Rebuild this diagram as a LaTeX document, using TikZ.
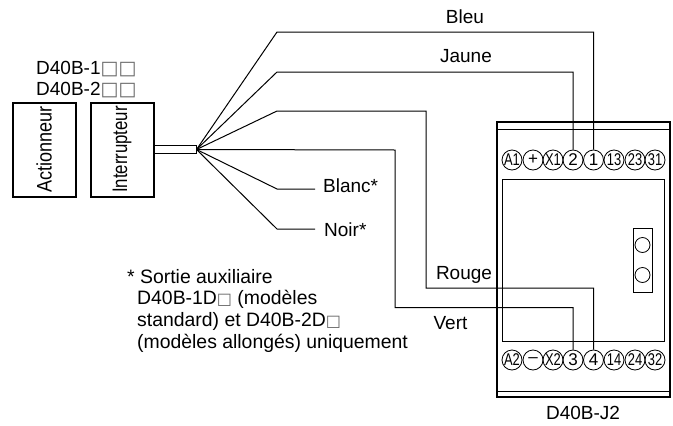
\documentclass[tikz,border=0pt]{standalone}
\usepackage{fontspec}
\setmainfont{Liberation Sans}
\newfontfamily\sqfont{DejaVu Sans}
\usetikzlibrary{positioning}
\newcommand{\sq}{{\sqfont\color{black!60}□}}
\newcommand{\sqn}{{\fontsize{16}{16}\selectfont\sq}}
\tikzset{
  txt/.style={font=\fontsize{19}{21}\selectfont, inner sep=0pt},
  note/.style={font=\fontsize{19.4}{21}\selectfont, inner sep=0pt, anchor=west},
  unit/.style={draw, line width=2pt, minimum width=63pt, minimum height=94pt, inner sep=0pt, outer sep=0pt},
  wire/.style={line width=1pt},
  term/.style={draw, circle, line width=0.8pt, minimum size=20pt, inner sep=0pt, font=\fontsize{17}{17}\selectfont},
  led/.style={draw, circle, line width=0.8pt, minimum size=15pt, inner sep=0pt},
}
\newcommand{\nar}[1]{\scalebox{0.76}[1]{#1}}
\begin{document}
\begin{tikzpicture}[x=1pt, y=-1pt]
    \useasboundingbox (0,0) rectangle (673,426);

    %define the boxes on the left
    \node[unit] (act) at (44,149.5) {\rotatebox{90}{\fontsize{21}{21}\selectfont\scalebox{0.86}[1]{Actionneur}}};
    \node[unit, right=15pt of act] (inter) {\rotatebox{90}{\fontsize{21}{21}\selectfont\scalebox{0.8}[1]{Interrupteur}}};
    \node[txt, anchor=west] (ref1) at (36,69) {D40B-1\sq\sq};
    \node[txt, anchor=west] (ref2) at (36,90) {D40B-2\sq\sq};
    \node[draw, line width=0.7pt, minimum width=43pt, minimum height=8pt, inner sep=0pt, outer sep=0pt, right=0pt of inter] (cable) {};
    \coordinate (fan) at (cable.east);

    %define the module
    \draw[line width=2pt] (497,122) rectangle (670,397);
    \draw[line width=0.8pt] (497,129) -- (670,129);
    \draw[line width=0.8pt] (497,391) -- (670,391);
    \draw[line width=0.9pt] (502,179) rectangle (664,341);
    \draw[line width=0.9pt] (633,228) rectangle (652,292);
    \node[led] (led1) at (642.5,245) {};
    \node[led] (led2) at (642.5,275) {};
    \node[txt] (module) at (583,413) {D40B-J2};

    %define the terminals
    \node[term] (tA1) at (512,160) {\nar{A1}};
    \node[term] (tP)  at (533,160) {+};
    \node[term] (tX1) at (553,160) {\nar{X1}};
    \node[term] (t2)  at (573,160) {2};
    \node[term] (t1)  at (593.5,160) {1};
    \node[term] (t13) at (614,160) {\nar{13}};
    \node[term] (t23) at (635,160) {\nar{23}};
    \node[term] (t31) at (655,160) {\nar{31}};
    \node[term] (tA2) at (512,360) {\nar{A2}};
    \node[term] (tM)  at (533,360) {--};
    \node[term] (tX2) at (553,360) {\nar{X2}};
    \node[term] (t3)  at (573,360) {3};
    \node[term] (t4)  at (593.5,360) {4};
    \node[term] (t14) at (614,360) {\nar{14}};
    \node[term] (t24) at (635,360) {\nar{24}};
    \node[term] (t32) at (655,360) {\nar{32}};

    % define the labels
    \node[txt] (bleu) at (465,17) {Bleu};
    \node[txt] (jaune) at (466,56) {Jaune};
    \node[txt, anchor=west] (blanc) at (323,186) {Blanc*};
    \node[txt, anchor=west] (noir) at (324,230) {Noir*};
    \node[txt] (rouge) at (464,275) {Rouge};
    \node[txt] (vert) at (450.5,323) {Vert};
    \node[note] (note0) at (127,277) {* Sortie auxiliaire};
    \node[note] (note1) at (137,299) {D40B-1D\sqn{} (modèles};
    \node[note] (note2) at (137,321) {standard) et D40B-2D\sqn};
    \node[note] (note3) at (137,343) {(modèles allongés) uniquement};

    % define the links
    \draw[wire] (fan) -- (277,32) -| (t1.north);
    \draw[wire] (fan) -- (277,72) -| (t2.north);
    \draw[wire] (fan) -- (277,111) -- (426,111) |- (593.5,288) -- (t4.north);
    \draw[wire] (fan) -- (395,150) |- (573,307.5) -- (t3.north);
    \draw[wire] (fan) -- (277,189) -- (315,189);
    \draw[wire] (fan) -- (277,229) -- (315,229);
  \end{tikzpicture}
\end{document}
